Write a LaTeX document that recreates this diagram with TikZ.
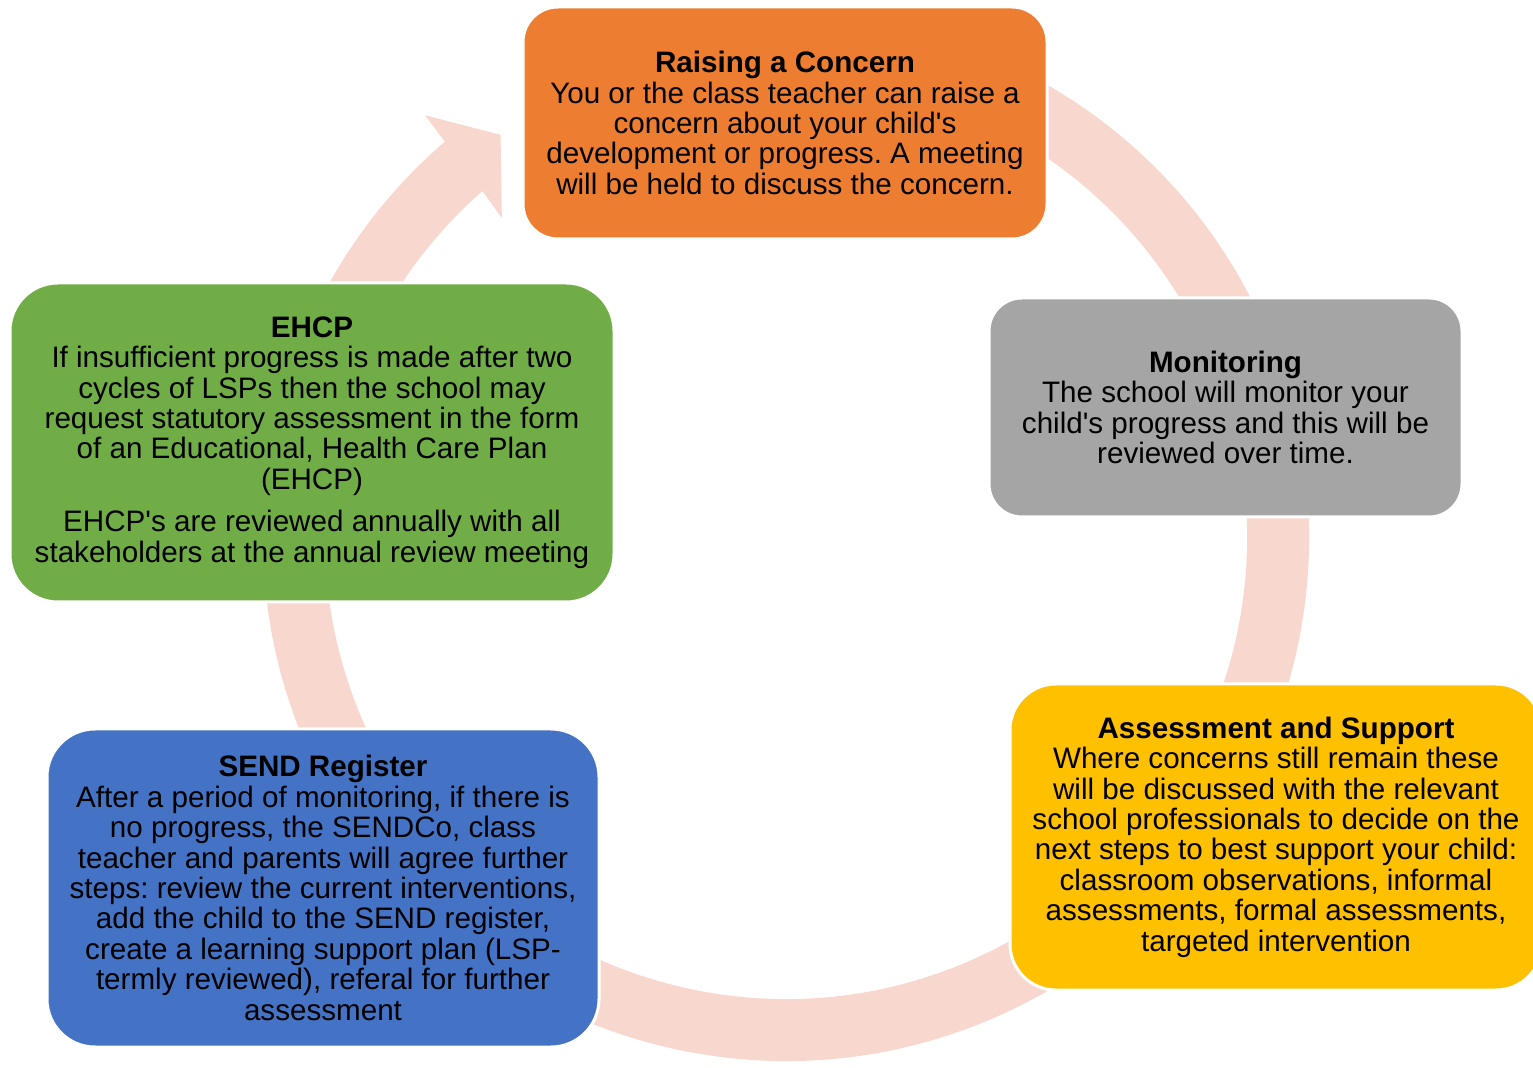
\documentclass[tikz,border=0pt]{standalone}
\usepackage{fontspec}
\setmainfont{Liberation Sans}
\usepackage{xcolor}
\usetikzlibrary{calc}

\definecolor{concern}{HTML}{ED7D31}
\definecolor{monitor}{HTML}{A5A5A5}
\definecolor{support}{HTML}{FFC000}
\definecolor{register}{HTML}{4472C4}
\definecolor{plan}{HTML}{70AD47}
\definecolor{ringpink}{RGB}{248,216,206}
\newcommand{\apos}{\textquotesingle}
\frenchspacing

\begin{document}
\begin{tikzpicture}[
    x=0.5pt, y=0.5pt,
    box/.style={rectangle, draw=white, line width=1.5pt, inner sep=0pt, align=center, font=\fontsize{14.8}{15.2}\selectfont},
    ring/.style={draw=ringpink, line width=31pt}
]
\useasboundingbox (0,0) rectangle (1533,1067);

% Cycle ring behind the boxes
\coordinate (c) at (786,529);
\draw[ring] ($(c)+(115:492)$) arc[start angle=115, end angle=-229.4, radius=492];
\fill[ringpink] ($(c)+(130.5:556)$) -- ($(c)+(125.3:494)$) -- ($(c)+(131.6:428)$) -- ($(c)+(131.2:461)$) -- cycle;

% Main boxes
\node[box, fill=concern, minimum width=262pt, minimum height=116pt, rounded corners=17.5pt] (concern) at (785,944)
    {\textbf{Raising a Concern}\\You or the class teacher can raise a\\concern about your child\apos s\\development or progress. A meeting\\will be held to discuss the concern.};
\node[box, fill=monitor, minimum width=236.5pt, minimum height=109.5pt, rounded corners=16.5pt] (monitor) at (1225.5,659.5)
    {\textbf{Monitoring}\\The school will monitor your\\child\apos s progress and this will be\\reviewed over time.};
\node[box, fill=support, minimum width=266pt, minimum height=153pt, rounded corners=23pt] (support) at (1276,230)
    {\textbf{Assessment and Support}\\Where concerns still remain these\\will be discussed with the relevant\\school professionals to decide on the\\next steps to best support your child:\\classroom observations, informal\\assessments, formal assessments,\\targeted intervention};
\node[box, fill=register, minimum width=276pt, minimum height=159pt, rounded corners=24pt] (register) at (323,179)
    {\textbf{SEND Register}\\After a period of monitoring, if there is\\no progress, the SENDCo, class\\teacher and parents will agree further\\steps: review the current interventions,\\add the child to the SEND register,\\create a learning support plan (LSP-\\termly reviewed), referal for further\\assessment};
\node[box, fill=plan, minimum width=302pt, minimum height=159.5pt, rounded corners=24pt] (plan) at (312,624.5)
    {\textbf{EHCP}\\If insufficient progress is made after two\\cycles of LSPs then the school may\\request statutory assessment in the form\\of an Educational, Health Care Plan\\(EHCP)\\[6pt]EHCP\apos s are reviewed annually with all\\stakeholders at the annual review meeting};

\end{tikzpicture}
\end{document}
